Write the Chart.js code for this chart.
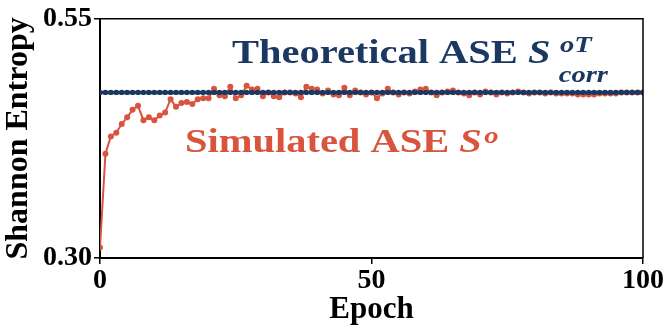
<!DOCTYPE html>
<html>
<head>
<meta charset="utf-8">
<script src="https://cdn.jsdelivr.net/npm/chart.js@4.4.1/dist/chart.umd.min.js"></script>
<style>
  html, body { margin: 0; padding: 0; background: #fff; }
  #wrap { width: 664px; height: 329px; }
</style>
</head>
<body>
<div id="wrap"><canvas id="entropyChart" width="664" height="329"></canvas></div>
<script>
// epochs 0..100
const epochs = [
  0, 1, 2, 3, 4, 5, 6, 7, 8, 9, 10, 11, 12, 13, 14, 15, 16, 17, 18, 19, 20,
  21, 22, 23, 24, 25, 26, 27, 28, 29, 30, 31, 32, 33, 34, 35, 36, 37, 38, 39, 40,
  41, 42, 43, 44, 45, 46, 47, 48, 49, 50, 51, 52, 53, 54, 55, 56, 57, 58, 59, 60,
  61, 62, 63, 64, 65, 66, 67, 68, 69, 70, 71, 72, 73, 74, 75, 76, 77, 78, 79, 80,
  81, 82, 83, 84, 85, 86, 87, 88, 89, 90, 91, 92, 93, 94, 95, 96, 97, 98, 99, 100
];

const simulated = [
  0.311, 0.409, 0.427, 0.431, 0.440, 0.447, 0.455, 0.459, 0.444, 0.447,
  0.444, 0.449, 0.452, 0.466, 0.458, 0.462, 0.463, 0.461, 0.466, 0.467,
  0.467, 0.477, 0.470, 0.469, 0.479, 0.467, 0.470, 0.480, 0.476, 0.477,
  0.469, 0.473, 0.469, 0.468, 0.473, 0.473, 0.472, 0.468, 0.479, 0.477,
  0.476, 0.472, 0.475, 0.471, 0.470, 0.478, 0.470, 0.475, 0.473, 0.471,
  0.473, 0.467, 0.472, 0.477, 0.473, 0.471, 0.473, 0.472, 0.474, 0.476,
  0.477, 0.473, 0.470, 0.473, 0.474, 0.475, 0.473, 0.472, 0.470, 0.473,
  0.471, 0.474, 0.473, 0.471, 0.473, 0.472, 0.473, 0.474, 0.473, 0.472,
  0.473, 0.473, 0.472, 0.473, 0.472, 0.472, 0.472, 0.472, 0.471, 0.471,
  0.471, 0.471, 0.472, 0.472, 0.472, 0.472, 0.473, 0.473, 0.473, 0.473,
  0.473
];

const theoretical = [
  0.473, 0.473, 0.473, 0.473, 0.473, 0.473, 0.473, 0.473, 0.473, 0.473,
  0.473, 0.473, 0.473, 0.473, 0.473, 0.473, 0.473, 0.473, 0.473, 0.473,
  0.473, 0.473, 0.473, 0.473, 0.473, 0.473, 0.473, 0.473, 0.473, 0.473,
  0.473, 0.473, 0.473, 0.473, 0.473, 0.473, 0.473, 0.473, 0.473, 0.473,
  0.473, 0.473, 0.473, 0.473, 0.473, 0.473, 0.473, 0.473, 0.473, 0.473,
  0.473, 0.473, 0.473, 0.473, 0.473, 0.473, 0.473, 0.473, 0.473, 0.473,
  0.473, 0.473, 0.473, 0.473, 0.473, 0.473, 0.473, 0.473, 0.473, 0.473,
  0.473, 0.473, 0.473, 0.473, 0.473, 0.473, 0.473, 0.473, 0.473, 0.473,
  0.473, 0.473, 0.473, 0.473, 0.473, 0.473, 0.473, 0.473, 0.473, 0.473,
  0.473, 0.473, 0.473, 0.473, 0.473, 0.473, 0.473, 0.473, 0.473, 0.473,
  0.473
];

const yTicks = [0.30, 0.55];
const xTicks = [0, 50, 100];

const BLUE = '#1b3862';
const RED = '#d9543c';
const SERIF = '"Liberation Serif", "Times New Roman", serif';

const toPoints = vals => vals.map((v, i) => ({ x: epochs[i], y: v }));

// the annotation text in the original is a bit wider than plain Times
function drawLabel(ctx, x0, y0, sx, main, sup, sub, supDy, subDy, supDx, subDx) {
  ctx.save();
  ctx.translate(x0, y0);
  ctx.scale(sx, 1);
  ctx.font = 'bold 34px ' + SERIF;
  ctx.fillText(main, 0, 0);
  let x = ctx.measureText(main).width;
  ctx.font = 'italic bold 34px ' + SERIF;
  ctx.fillText('S', x, 0);
  x += ctx.measureText('S').width;
  ctx.font = 'italic bold 24px ' + SERIF;
  if (sup) ctx.fillText(sup, x + supDx, supDy);
  if (sub) ctx.fillText(sub, x + subDx, subDy);
  ctx.restore();
}

const extras = {
  id: 'extras',
  afterDatasetsDraw(chart) {
    const { ctx, chartArea: a } = chart;
    ctx.save();
    ctx.strokeStyle = '#000';
    ctx.lineWidth = 1.5;
    ctx.beginPath();
    ctx.moveTo(a.left, a.top);
    ctx.lineTo(a.right, a.top);
    ctx.lineTo(a.right, a.bottom);
    ctx.stroke();

    ctx.textBaseline = 'alphabetic';
    ctx.fillStyle = BLUE;
    drawLabel(ctx, 232, 63, 1.19, 'Theoretical ASE ', 'oT', 'corr', -11, 19, 8, 7);
    ctx.fillStyle = RED;
    drawLabel(ctx, 185, 152, 1.19, 'Simulated ASE ', 'o', null, -9, 0, 2, 0);
    ctx.restore();
  }
};

new Chart(document.getElementById('entropyChart'), {
  type: 'line',
  data: {
    datasets: [
      {
        label: 'Theoretical',
        data: toPoints(theoretical),
        borderColor: BLUE,
        backgroundColor: BLUE,
        borderWidth: 3.5,
        pointRadius: 2.6,
        pointBorderWidth: 0,
        tension: 0
      },
      {
        label: 'Simulated',
        data: toPoints(simulated),
        borderColor: RED,
        backgroundColor: RED,
        borderWidth: 2,
        pointRadius: 3,
        pointBorderWidth: 0,
        tension: 0
      }
    ]
  },
  options: {
    responsive: false,
    animation: false,
    layout: { padding: { top: 17, right: 21, left: 0, bottom: 0 } },
    plugins: { legend: { display: false }, tooltip: { enabled: false } },
    scales: {
      x: {
        type: 'linear',
        min: 0, max: 100,
        afterBuildTicks: s => { s.ticks = xTicks.map(v => ({ value: v })); },
        afterFit: s => { s.height = 71; },
        ticks: { color: '#000', font: { family: SERIF, size: 28, weight: 'bold' }, padding: 0 },
        grid: { drawOnChartArea: false, tickLength: 6, color: '#000', lineWidth: 1.5 },
        border: { color: '#000', width: 2 },
        title: { display: true, text: 'Epoch', color: '#000',
                 font: { family: SERIF, size: 31, weight: 'bold' }, padding: { top: 0, bottom: 0 } }
      },
      y: {
        min: 0.30, max: 0.55,
        afterBuildTicks: s => { s.ticks = yTicks.map(v => ({ value: v })); },
        afterFit: s => { s.width = 100; },
        ticks: { color: '#000', font: { family: SERIF, size: 28, weight: 'bold' }, padding: 2,
                 callback: v => v.toFixed(2) },
        grid: { drawOnChartArea: false, tickLength: 6, color: '#000', lineWidth: 1.5 },
        border: { color: '#000', width: 2 },
        title: { display: true, text: 'Shannon Entropy', color: '#000',
                 font: { family: SERIF, size: 32, weight: 'bold' }, padding: { top: 0, bottom: 0 } }
      }
    }
  },
  plugins: [extras]
});
</script>
</body>
</html>
